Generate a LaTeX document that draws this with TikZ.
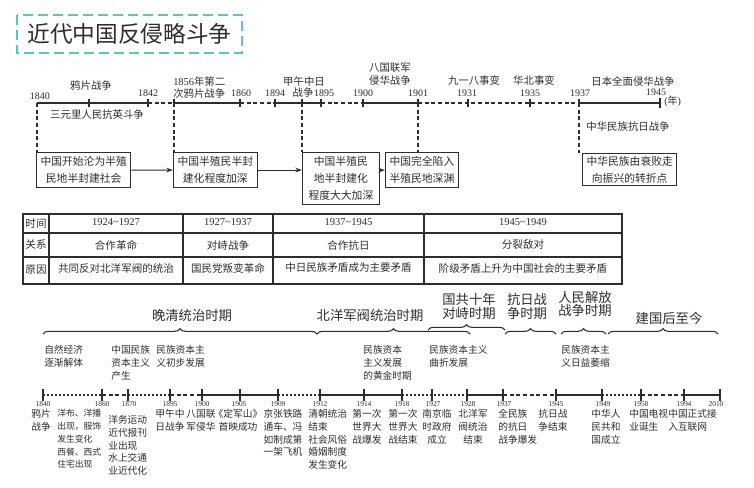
\documentclass[tikz,border=0pt]{standalone}
\usepackage{fontspec}
\setmainfont{Liberation Serif}
\newfontfamily\cjk{Noto Sans CJK SC}
\usetikzlibrary{arrows.meta,decorations.pathreplacing}
\definecolor{inkgray}{RGB}{45,45,45}
\definecolor{titleteal}{RGB}{95,195,198}

\begin{document}
\begin{tikzpicture}[x=0.75pt,y=0.75pt,yscale=-1,xscale=1,
  every node/.style={text=inkgray},
  yrtop/.style={font=\fontsize{7.5}{8}\selectfont, inner sep=0.75pt},
  yrbot/.style={font=\fontsize{5.6}{6}\selectfont, inner sep=0.75pt},
  toplbl/.style={font=\cjk\fontsize{7.8}{9.8}\selectfont, inner sep=0.75pt, align=center},
  stagebox/.style={draw=inkgray, line width=0.8pt, font=\cjk\fontsize{8.1}{12.8}\selectfont, align=center, inner xsep=3pt, inner ysep=3pt, anchor=north west},
  cell/.style={font=\cjk\fontsize{7.9}{9}\selectfont, inner sep=0.75pt},
  aboveline/.style={font=\cjk\fontsize{7.3}{9.8}\selectfont, inner sep=0.75pt, align=left, anchor=north west},
  evt/.style={font=\cjk\fontsize{7.3}{9.6}\selectfont, inner sep=0.75pt, align=center, anchor=north},
  evtl/.style={evt, align=left, anchor=north west},
  era/.style={font=\cjk\fontsize{10}{10}\selectfont, inner sep=0.75pt, align=center},
  eraspan/.style={decorate, decoration={brace, amplitude=4pt}, draw=inkgray, line width=0.8pt},
  solidseg/.style={draw=inkgray, line width=0.9pt},
  dashseg/.style={draw=inkgray, line width=0.9pt, dash pattern=on 3pt off 2pt},
  dotseg/.style={draw=inkgray, line width=0.9pt, dash pattern=on 1.5pt off 1.5pt},
  tk/.style={draw=inkgray, line width=0.8pt},
  tablerule/.style={draw=inkgray, line width=1pt},
  linkarrow/.style={draw=inkgray, line width=0.8pt, -{Stealth[length=5pt,width=3.5pt]}}
]
\useasboundingbox (0,0) rectangle (754,488);

%Shape: Rectangle (title)
\draw [draw=titleteal, line width=1.6pt, dash pattern=on 7.5pt off 3.75pt] (17,15) rectangle (242,53);
\draw (129.5,34) node [font=\cjk\fontsize{17}{18}\selectfont, inner sep=0.75pt] (title) {近代中国反侵略斗争};

%Straight Lines (upper time line)
\coordinate (a1840) at (37,103);
\coordinate (ayp) at (89,103);
\coordinate (a1842) at (148,103);
\coordinate (a1856) at (174,103);
\coordinate (a1860) at (240,103);
\coordinate (a1894) at (275,103);
\coordinate (ajw) at (302,103);
\coordinate (a1895) at (321,103);
\coordinate (a1900) at (363,103);
\coordinate (a1901) at (418,103);
\coordinate (a1931) at (468,103);
\coordinate (a1935) at (530,103);
\coordinate (a1937) at (579,103);
\coordinate (a1945) at (660,103);
\draw [solidseg] (a1840) -- (a1842);
\draw [dashseg] (a1842) -- (a1856);
\draw [solidseg] (a1856) -- (a1860);
\draw [dashseg] (a1860) -- (a1894);
\draw [solidseg] (a1894) -- (a1895);
\draw [dashseg] (a1895) -- (a1900);
\draw [solidseg] (a1900) -- (a1901);
\draw [dashseg] (a1901) -- (a1937);
\draw [solidseg] (a1937) -- (a1945);
\draw [tk] (89,99) -- (89,107);
\draw [tk] (148,99) -- (148,107);
\draw [tk] (174,99) -- (174,107);
\draw [tk] (240,99) -- (240,107);
\draw [tk] (275,99) -- (275,107);
\draw [tk] (302,99) -- (302,107);
\draw [tk] (321,99) -- (321,107);
\draw [tk] (363,99) -- (363,107);
\draw [tk] (418,99) -- (418,107);
\draw [tk] (468,99) -- (468,107);
\draw [tk] (530,99) -- (530,107);
\draw [tk] (579,99) -- (579,107);
\draw [tk] (660,98) -- (660,108);

% years and events on the upper line
\draw (40,96) node [yrtop] (y1840) {1840};
\draw (91,86) node [toplbl] (opium) {鸦片战争};
\draw (148,93) node [yrtop] (y1842) {1842};
\draw (172,87.5) node [toplbl, align=left, anchor=west, font=\cjk\fontsize{7.8}{8.4}\selectfont] (opium2) {{\rmfamily 1856}年第二\\次鸦片战争};
\draw (241,93) node [yrtop] (y1860) {1860};
\draw (275,93) node [yrtop] (y1894) {1894};
\draw (304,82) node [toplbl] (sino) {甲午中日};
\draw (303,93) node [toplbl] (sino2) {战争};
\draw (324,93) node [yrtop] (y1895) {1895};
\draw (363,93) node [yrtop] (y1900) {1900};
\draw (412,74.5) node [toplbl, align=right, anchor=east] (boxer) {八国联军\\侵华战争};
\draw (418,93) node [yrtop] (y1901) {1901};
\draw (474,81) node [toplbl] (sept18) {九一八事变};
\draw (467,93) node [yrtop] (y1931) {1931};
\draw (534,81) node [toplbl] (huabei) {华北事变};
\draw (530,93) node [yrtop] (y1935) {1935};
\draw (580,93) node [yrtop] (y1937) {1937};
\draw (633,81) node [toplbl] (fullwar) {日本全面侵华战争};
\draw (656,92) node [yrtop] (y1945) {1945};
\draw (663,101) node [yrtop, anchor=west] (unit) {({\cjk 年})};
\draw (97,115) node [toplbl] (sanyuanli) {三元里人民抗英斗争};
\draw (628,127) node [toplbl] (resist) {中华民族抗日战争};

%Shape: Rectangle (stages)
\draw (36,152) node [stagebox] (s1) {中国开始沦为半殖\\民地半封建社会};
\draw (173,152) node [stagebox] (s2) {中国半殖民半封\\建化程度加深};
\draw (302,152) node [stagebox, inner xsep=4.5pt] (s3) {中国半殖民\\地半封建化\\程度大大加深};
\draw (385,152) node [stagebox] (s4) {中国完全陷入\\半殖民地深渊};
\draw (582,153) node [stagebox, inner ysep=2pt] (s5) {中华民族由衰败走\\向振兴的转折点};

\draw [dashseg] (a1840) -- (a1840 |- s1.north);
\draw [dashseg] (a1856) -- (a1856 |- s2.north);
\draw [dashseg] (ajw) -- (ajw |- s3.north);
\draw [dashseg] (a1901) -- (a1901 |- s4.north);
\draw [dashseg] (a1937) -- (a1937 |- s5.north);

\draw [linkarrow] (s1.east) -- (s2.west);
\draw [linkarrow] (s2.east) -- (s2.east -| s3.west);
\draw [linkarrow] (s3.east |- s4.west) -- (s4.west);

%Shape: Table
\draw [tablerule] (23,214) rectangle (622,284);
\draw [tablerule] (23,233) -- (622,233);
\draw [tablerule] (23,257) -- (622,257);
\draw [tablerule] (49,214) -- (49,284);
\draw [tablerule] (183,214) -- (183,284);
\draw [tablerule] (273,214) -- (273,284);
\draw [tablerule] (424,214) -- (424,284);
\draw (36,223.5) node [cell] (hdtime) {时间};
\draw (36,245) node [cell] (hdrel) {关系};
\draw (36,270) node [cell] (hdcause) {原因};
\draw (116,222.5) node [cell, font=\fontsize{7.9}{9}\selectfont] (p1) {1924\textasciitilde1927};
\draw (228,222.5) node [cell, font=\fontsize{7.9}{9}\selectfont] (p2) {1927\textasciitilde1937};
\draw (348.5,222.5) node [cell, font=\fontsize{7.9}{9}\selectfont] (p3) {1937\textasciitilde1945};
\draw (523,222.5) node [cell, font=\fontsize{7.9}{9}\selectfont] (p4) {1945\textasciitilde1949};
\draw (116,245) node [cell] (r1) {合作革命};
\draw (228,245) node [cell] (r2) {对峙战争};
\draw (348.5,245) node [cell] (r3) {合作抗日};
\draw (523,245) node [cell] (r4) {分裂敌对};
\draw (116,268) node [cell] (c1) {共同反对北洋军阀的统治};
\draw (228,268) node [cell] (c2) {国民党叛变革命};
\draw (348.5,268) node [cell] (c3) {中日民族矛盾成为主要矛盾};
\draw (523,268) node [cell] (c4) {阶级矛盾上升为中国社会的主要矛盾};

% periods
\draw (192,315) node [era] (qing) {晚清统治时期};
\draw (370,315) node [era] (beiyang) {北洋军阀统治时期};
\draw (469,306.5) node [era] (kmtcpc) {国共十年\\对峙时期};
\draw (527,306.5) node [era] (antijp) {抗日战\\争时期};
\draw (585,304) node [era] (liberation) {人民解放\\战争时期};
\draw (669,318) node [era] (prc) {建国后至今};
\draw [eraspan] (43,334) -- (317,334);
\draw [eraspan] (317,334) -- (470,334);
\draw [eraspan] (428,330) -- (505,330);
\draw [eraspan] (505,334) -- (556,334);
\draw [eraspan] (561,334) -- (606,334);
\draw [eraspan] (608,334) -- (718,334);

\draw (43,344) node [aboveline] (u1) {自然经济\\逐渐解体};
\draw (110,344) node [aboveline] (u2) {中国民族\\资本主义\\产生};
\draw (155,344) node [aboveline] (u3) {民族资本主\\义初步发展};
\draw (362,344) node [aboveline] (u4) {民族资本\\主义发展\\的黄金时期};
\draw (428,344) node [aboveline] (u5) {民族资本主义\\曲折发展};
\draw (560,344) node [aboveline] (u6) {民族资本主\\义日益萎缩};

%Straight Lines (lower time line)
\coordinate (b1840) at (43,395);
\coordinate (b1860) at (102,395);
\coordinate (b1870) at (128,395);
\coordinate (b1895) at (170,395);
\coordinate (b1900) at (202,395);
\coordinate (b1905) at (240,395);
\coordinate (b1909) at (278,395);
\coordinate (b1912) at (320,395);
\coordinate (b1914) at (364,395);
\coordinate (b1918) at (402,395);
\coordinate (b1927) at (432,395);
\coordinate (b1928) at (467,395);
\coordinate (b1937) at (503,395);
\coordinate (b1945) at (556,395);
\coordinate (b1949) at (602,395);
\coordinate (b1958) at (641,395);
\coordinate (b1994) at (684,395);
\coordinate (b2010) at (720,395);
\draw [dotseg] (b1840) -- (b1860);
\draw [dashseg] (b1860) -- (b1870);
\draw [dotseg] (b1870) -- (b1895);
\draw [dashseg] (b1895) -- (b1900);
\draw [solidseg] (b1900) -- (b1909);
\draw [dotseg] (b1909) -- (b1912);
\draw [solidseg] (b1912) -- (b1918);
\draw [dotseg] (b1918) -- (b1928);
\draw [solidseg] (b1928) -- (b1937);
\draw [dashseg] (b1937) -- (b1945);
\draw [solidseg] (b1945) -- (b1949);
\draw [dotseg] (b1949) -- (b1958);
\draw [dashseg] (b1958) -- (b1994);
\draw [solidseg] (b1994) -- (b2010);
\draw [tk] (43,389) -- (43,401);
\draw [tk] (102,389) -- (102,401);
\draw [tk] (128,389) -- (128,401);
\draw [tk] (170,389) -- (170,401);
\draw [tk] (202,389) -- (202,401);
\draw [tk] (240,389) -- (240,401);
\draw [tk] (278,389) -- (278,401);
\draw [tk] (320,389) -- (320,401);
\draw [tk] (364,389) -- (364,401);
\draw [tk] (402,389) -- (402,401);
\draw [tk] (432,389) -- (432,401);
\draw [tk] (467,389) -- (467,401);
\draw [tk] (503,389) -- (503,401);
\draw [tk] (556,389) -- (556,401);
\draw [tk] (602,389) -- (602,401);
\draw [tk] (641,389) -- (641,401);
\draw [tk] (684,389) -- (684,401);
\draw [tk] (720,389) -- (720,401);

\draw (43,404) node [yrbot] (z1840) {1840};
\draw (102,404) node [yrbot] (z1860) {1860};
\draw (129,404) node [yrbot] (z1870) {1870};
\draw (170,404) node [yrbot] (z1895) {1895};
\draw (202,404) node [yrbot] (z1900) {1900};
\draw (239,404) node [yrbot] (z1905) {1905};
\draw (278,404) node [yrbot] (z1909) {1909};
\draw (320,404) node [yrbot] (z1912) {1912};
\draw (364,404) node [yrbot] (z1914) {1914};
\draw (402,404) node [yrbot] (z1918) {1918};
\draw (433,404) node [yrbot] (z1927) {1927};
\draw (468,404) node [yrbot] (z1928) {1928};
\draw (504,404) node [yrbot] (z1937) {1937};
\draw (556,404) node [yrbot] (z1945) {1945};
\draw (603,404) node [yrbot] (z1949) {1949};
\draw (641,404) node [yrbot] (z1958) {1958};
\draw (684,404) node [yrbot] (z1994) {1994};
\draw (716,404) node [yrbot] (z2010) {2010};

\draw (41,408) node [evt] (e1840) {鸦片\\战争};
\draw (56,408) node [evtl, font=\cjk\fontsize{6.6}{9.6}\selectfont] (e1860) {洋布、洋播\\出现，服饰\\发生变化\\西餐、西式\\住宅出现};
\draw (107,414) node [evtl] (e1870) {洋务运动\\近代报刊\\业出现\\水上交通\\业近代化};
\draw (170,408) node [evt] (e1895) {甲午中\\日战争};
\draw (201,408) node [evt] (e1900) {八国联\\军侵华};
\draw (238,408) node [evt] (e1905) {《定军山》\\首映成功};
\draw (283,408) node [evt] (e1909) {京张铁路\\通车、冯\\如制成第\\一架飞机};
\draw (307,408) node [evtl] (e1912) {清朝统治\\结束\\社会风俗\\婚姻制度\\发生变化};
\draw (367,408) node [evt] (e1914) {第一次\\世界大\\战爆发};
\draw (403,408) node [evt] (e1918) {第一次\\世界大\\战结束};
\draw (437,408) node [evt] (e1927) {南京临\\时政府\\成立};
\draw (473,408) node [evt] (e1928) {北洋军\\阀统治\\结束};
\draw (497,408) node [evtl] (e1937) {全民族\\的抗日\\战争爆发};
\draw (553,408) node [evt] (e1945) {抗日战\\争结束};
\draw (606,408) node [evt] (e1949) {中华人\\民共和\\国成立};
\draw (628,408) node [evtl] (e1958) {中国电视\\业诞生};
\draw (667,408) node [evtl] (e1994) {中国正式接\\入互联网};
\end{tikzpicture}
\end{document}
